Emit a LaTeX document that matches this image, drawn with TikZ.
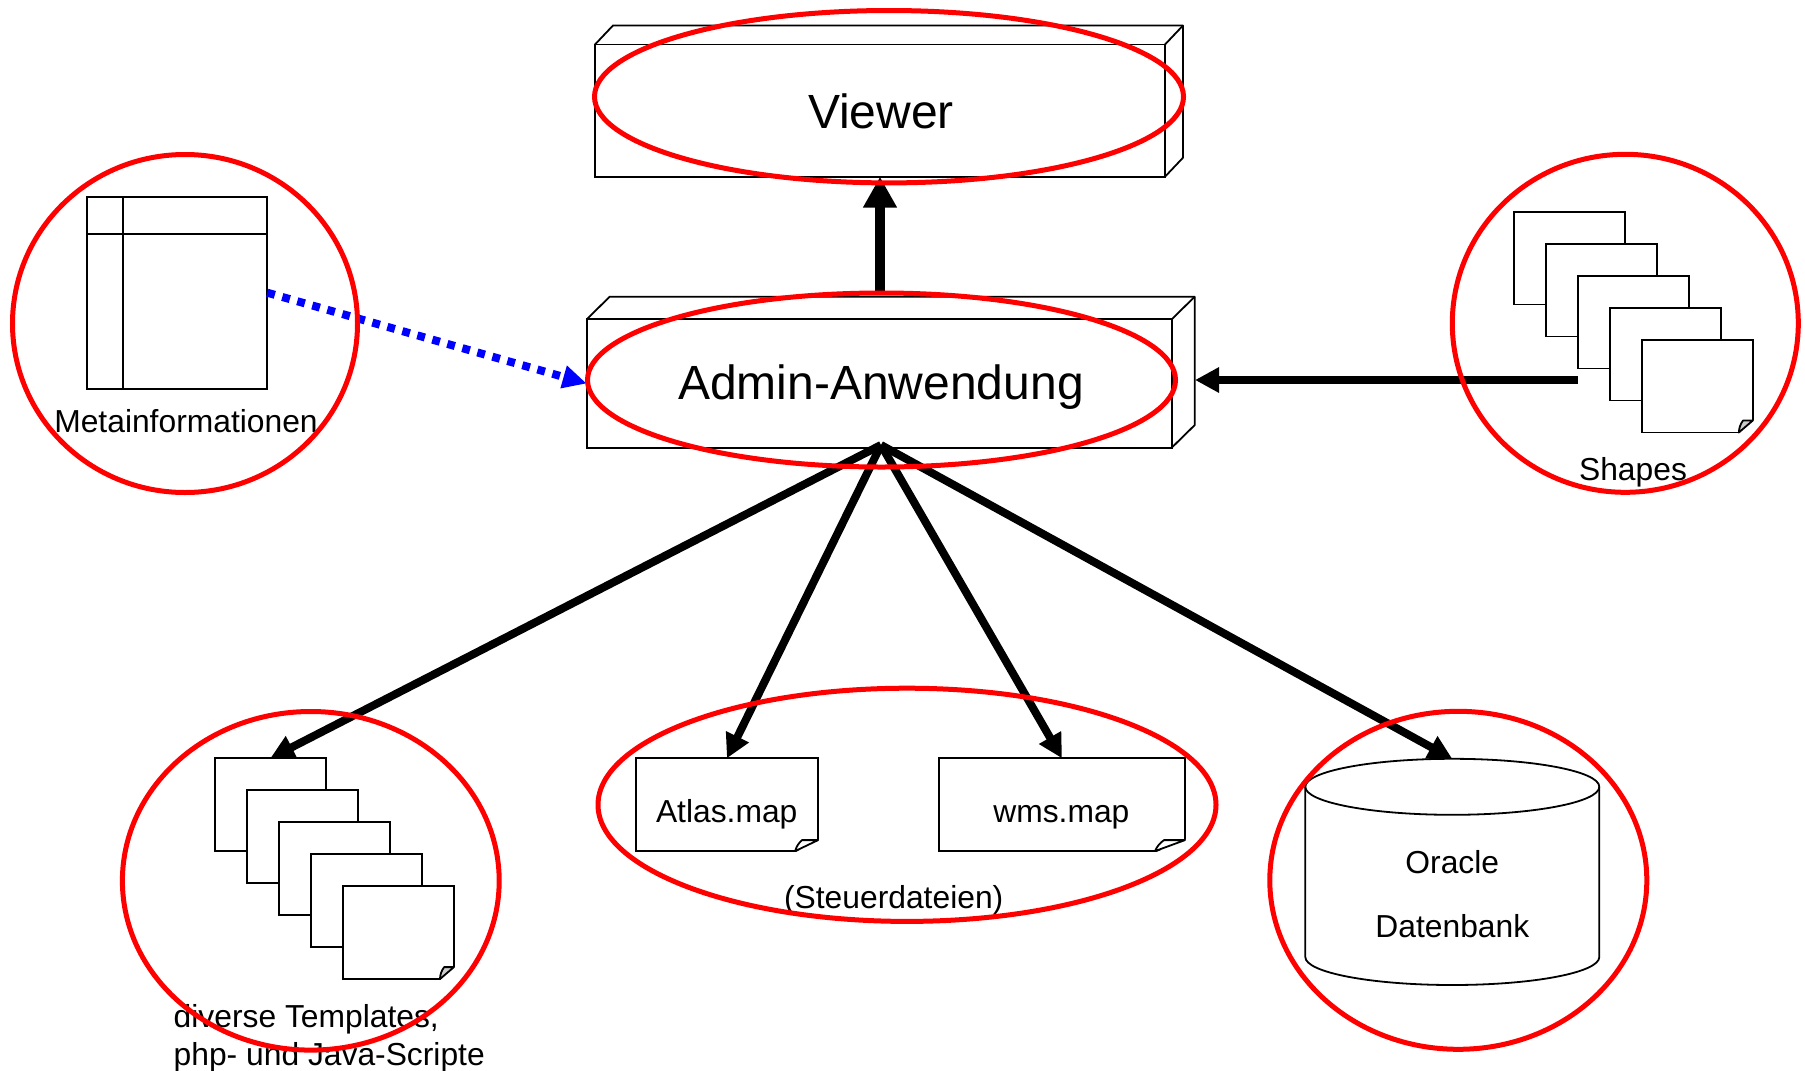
\documentclass[tikz,border=0pt]{standalone}
\usepackage{fontspec}
\setmainfont{Liberation Sans}
\usetikzlibrary{arrows.meta,shapes.geometric}
\definecolor{ringred}{RGB}{255,0,0}
\definecolor{dotblue}{RGB}{0,0,255}
\tikzset{
	box3d/.style n args={2}{draw=black,fill=white,line width=0.9pt,outer sep=0pt,inner sep=0pt,minimum width=#1,minimum height=#2},
	sheet/.style={draw=black,fill=white,line width=0.9pt,outer sep=0pt,inner sep=0pt,minimum width=#1,minimum height=46.4pt,anchor=north west},
	ring/.style n args={2}{ellipse,draw=ringred,line width=2.5pt,inner sep=0pt,outer sep=0pt,minimum width=#1,minimum height=#2},
	caption/.style={anchor=base,inner sep=0pt,font=\fontsize{15.9}{18}\selectfont},
	bigcaption/.style={anchor=base,inner sep=0pt,font=\fontsize{24}{27}\selectfont},
	fat/.style={line width=4pt,-{Triangle[length=12pt,width=12pt]}},
	fatter/.style={line width=5pt,-{Triangle[length=15.5pt,width=16pt]}},
	dotted blue/.style={line width=4pt,draw=dotblue,dash pattern=on 3.9pt off 3.9pt,-{Triangle[length=12pt,width=11pt,fill=dotblue]}},
	thinline/.style={line width=0.9pt},
	lidarc/.style={x radius=73.5pt,y radius=14pt},
}
% top and side faces of a box
\newcommand{\boxdepth}[3]{
	\draw[thinline,line join=round] (#1.north west) -- ++(#2,-#3) -- ([shift={(#2,-#3)}]#1.north east) -- ([shift={(#2,-#3)}]#1.south east) -- (#1.south east);
	\draw[thinline] (#1.north east) -- ++(#2,-#3);
}
% little dog ear at the lower right corner of a sheet
\newcommand{\dogear}[4][white]{
	\fill[white] ([shift={(-#3-1,2)}]#2.south east) -- ([shift={(2,2)}]#2.south east) -- ([shift={(2,-#4-1)}]#2.south east) -- cycle;
	\draw[thinline,line join=round,fill=#1] ([shift={(-#3,0)}]#2.south east) -- ([shift={(0,-#4)}]#2.south east) -- ([shift={(-0.7*#3,-#4)}]#2.south east) to[bend right=15] cycle;
}

\begin{document}
\begin{tikzpicture}[x=0.5pt,y=-0.5pt]
\useasboundingbox (0,0) rectangle (1805,1071);

% boxes

\node[box3d={285pt}{66.1pt}] (viewer) at (880,110.6) {};
\boxdepth{viewer}{18}{19}
\node[box3d={292.5pt}{64.2pt}] (admin) at (879.2,383.5) {};
\boxdepth{admin}{23}{22.6}

% table

\node[sheet=90pt,minimum height=96pt] (meta) at (87.3,196.7) {};
\draw[thinline] ([xshift=17.7pt]meta.north west) -- ([xshift=17.7pt]meta.south west);
\draw[thinline] ([yshift=-18.8pt]meta.north west) -- ([yshift=-18.8pt]meta.north east);

% sheets

\foreach \i in {1,...,5}{
	\node[sheet=55.4pt] (shape\i) at ({1514+32*(\i-1)},{211.7+32*(\i-1)}) {};
	\node[sheet=55.6pt] (tmpl\i) at ({214.7+32*(\i-1)},{758.3+32*(\i-1)}) {};
}
\dogear[black!20]{shape5}{14}{12}
\dogear[black!20]{tmpl5}{14}{12}

\node[sheet=91.2pt] (atlas) at (635.7,758.3) {};
\node[sheet=123pt] (wms) at (939,758.3) {};
\dogear{atlas}{23}{11}
\dogear{wms}{30}{11}

% database

\node[inner sep=0pt,outer sep=0pt,minimum width=147pt,minimum height=113.1pt] (oracle) at (1452.3,871.9) {};
\draw[thinline] ([shift={(0,28)}]oracle.north west) -- ([shift={(0,-28)}]oracle.south west) arc[start angle=180,end angle=360,lidarc] -- ([shift={(0,28)}]oracle.north east) arc[start angle=0,end angle=180,lidarc];
\draw[thinline] ([shift={(0,28)}]oracle.north west) arc[start angle=180,end angle=360,lidarc];

% connections

\coordinate (fan) at (881,445);
\coordinate (shapesout) at (1577.7,380);
\coordinate (adminin) at (1195,380);
\coordinate (adminup) at (880,292);

\draw[fatter] (adminup) -- (viewer.south);
\draw[fat] (shapesout) -- (adminin);
\draw[dotted blue] (meta.east) -- (admin.west);
\draw[fat] (fan) -- (tmpl1.north);
\draw[fat] (fan) -- (atlas.north);
\draw[fat] (fan) -- (wms.north);
\draw[fat] (fan) -- (oracle.north);

% texts

\node[bigcaption] (viewertext) at (881,128.5) {Viewer};
\node[bigcaption] (admintext) at (881,399.8) {Admin-Anwendung};
\node[caption] (metatext) at (186,432.5) {Metainformationen};
\node[caption] (shapestext) at (1633,480) {Shapes};
\node[caption] (atlastext) at (726.7,822.7) {Atlas.map};
\node[caption] (wmstext) at (1061.4,822.7) {wms.map};
\node[caption] (steuertext) at (893.7,908.5) {(Steuerdateien)};
\node[caption] (oracletext) at (1452.3,873) {Oracle};
\node[caption] (datentext) at (1452.3,937.5) {Datenbank};
\node[caption,anchor=base west] (tmpltext) at (173.3,1027) {diverse Templates,};
\node[caption,anchor=base west] (phptext) at (173.3,1065) {php- und Java-Scripte};

% red rings

\node[ring={294.5pt}{86.2pt}] (ringviewer) at (889,96.7) {};
\node[ring={294pt}{87pt}] (ringadmin) at (881.5,380) {};
\node[ring={172.5pt}{169pt}] (ringmeta) at (185,323.5) {};
\node[ring={173pt}{169pt}] (ringshapes) at (1625.3,323.3) {};
\node[ring={188.4pt}{169.3pt}] (ringtmpl) at (310.8,880.8) {};
\node[ring={309pt}{116.6pt}] (ringsteuer) at (907,804.8) {};
\node[ring={188.5pt}{169pt}] (ringoracle) at (1458.3,880.3) {};

\end{tikzpicture}
\end{document}
